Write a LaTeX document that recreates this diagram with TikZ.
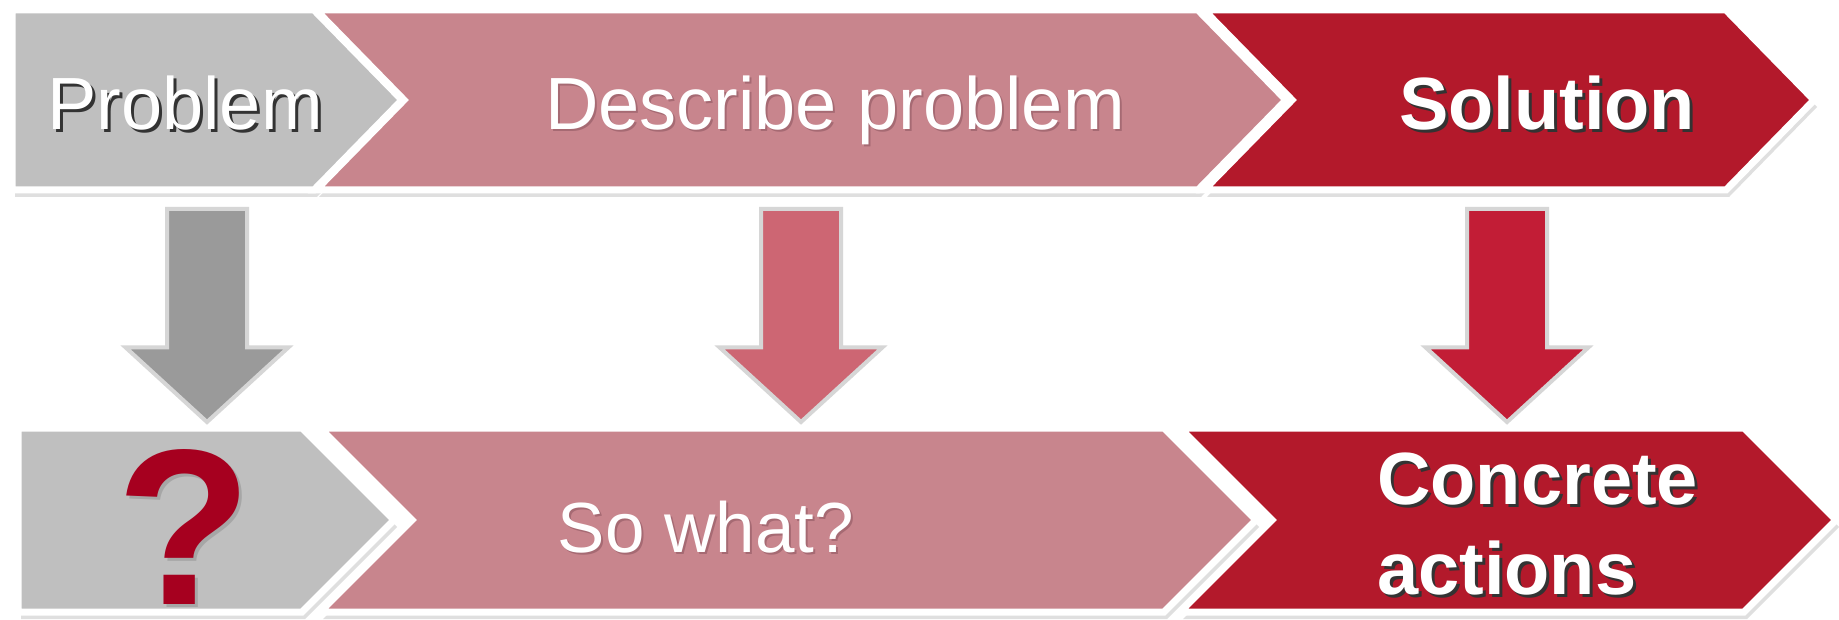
\documentclass[tikz,border=0pt]{standalone}
\usepackage{fontspec}
\setmainfont{Liberation Sans}
\usetikzlibrary{shapes.arrows, shadows}
\definecolor{colGray}     {HTML}{BFBFBF}
\definecolor{colPink}     {HTML}{C8858D}
\definecolor{colRed}      {HTML}{B3192B}
\definecolor{colGrayArr}  {HTML}{9A9A9A}
\definecolor{colPinkArr}  {HTML}{CD6673}
\definecolor{colRedArr}   {HTML}{C21D36}
\definecolor{colArrEdge}  {HTML}{D6D6D6}
\definecolor{colQuest}    {HTML}{A6001F}
\definecolor{colPinkShade}{HTML}{A66A73}
% text with a small offset shadow behind it
\newcommand{\shtext}[3][3pt]{\leavevmode\rlap{\hspace{#1}\raisebox{-#1}{\textcolor{#2}{#3}}}#3}
\tikzset{
  chev/.style={
    draw=white, line width=7pt, line join=miter,
    drop shadow={shadow xshift=3pt, shadow yshift=-7pt, opacity=0.25}
  },
  lbl/.style={text=white, inner sep=0pt, font=\fontsize{74}{90}\selectfont},
  lblbold/.style={lbl, font=\fontsize{74}{90}\selectfont\bfseries},
  downarr/.style={
    single arrow, rotate=-90, anchor=tail,
    minimum height=213pt, minimum width=159pt,
    inner xsep=0pt, inner ysep=38pt,
    single arrow head extend=41.5pt, single arrow tip angle=95,
    draw=colArrEdge, line width=4pt
  }
}
\begin{document}
\begin{tikzpicture}[x=1pt, y=-1pt]
  \useasboundingbox[fill=white] (0,0) rectangle (1839,620);
  % top row
  \draw[chev, fill=colGray] (12,10) -- (314,10) -- (402,100) -- (314,190) -- (12,190) -- cycle;
  \draw[chev, fill=colPink] (316,10) -- (1198,10) -- (1286,100) -- (1198,190) -- (316,190) -- (404,100) -- cycle;
  \draw[chev, fill=colRed] (1204,10) -- (1726,10) -- (1814,100) -- (1726,190) -- (1204,190) -- (1292,100) -- cycle;
  % bottom row
  \draw[chev, fill=colGray] (18,428) -- (302,428) -- (394,520) -- (302,612) -- (18,612) -- cycle;
  \draw[chev, fill=colPink] (320,428) -- (1164,428) -- (1256,520) -- (1164,612) -- (320,612) -- (412,520) -- cycle;
  \draw[chev, fill=colRed] (1180,428) -- (1744,428) -- (1836,520) -- (1744,612) -- (1180,612) -- (1272,520) -- cycle;
  % labels
  \node[lbl, anchor=base] (prob) at (185,130) {\shtext{black!80}{Problem}};
  \node[lbl, anchor=base] (desc) at (835,130) {\shtext[2pt]{colPinkShade}{Describe problem}};
  \node[lblbold, anchor=base] (sol) at (1547,130) {\shtext{black!80}{Solution}};
  \node[text=colQuest, inner sep=0pt, font=\fontsize{222}{230}\selectfont\bfseries,
        anchor=base] (quest) at (184,604) {\shtext{black!35}{?}};
  \node[lbl, font=\fontsize{71}{86}\selectfont, anchor=base] (sowhat) at (706,552)
        {\shtext[2pt]{colPinkShade}{So what?}};
  \node[lblbold, align=left, anchor=west] (act) at (1377,526)
        {\shtext{black!80}{Concrete}\\\shtext{black!80}{actions}};
  % block arrows between the rows
  \node[downarr, fill=colGrayArr] (garr) at (207,207) {};
  \node[downarr, fill=colPinkArr] (parr) at (801,207) {};
  \node[downarr, fill=colRedArr]  (rarr) at (1507,207) {};
\end{tikzpicture}
\end{document}
